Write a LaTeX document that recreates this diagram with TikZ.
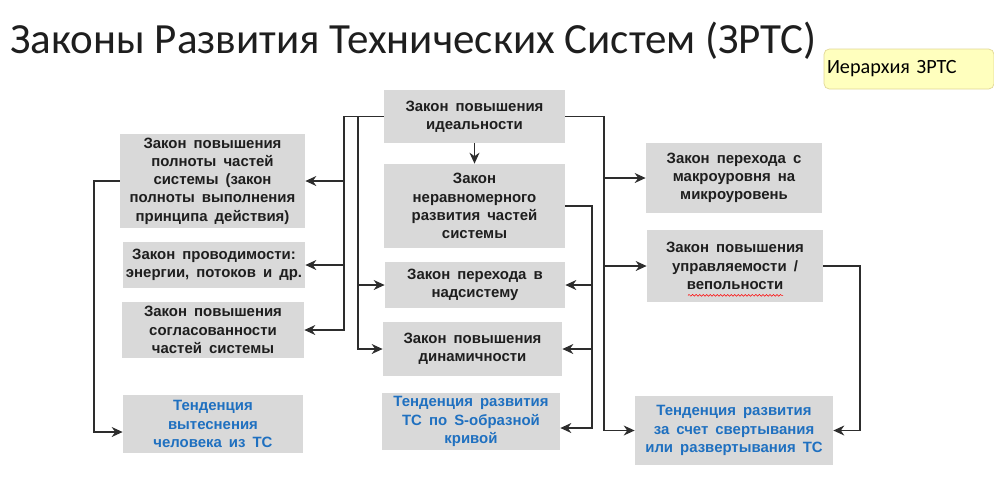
\documentclass[tikz,border=0pt]{standalone}
\usepackage{fontspec}
\setmainfont{Carlito}
\newfontfamily\lawfont[WordSpace=1.7]{Liberation Sans}
\usetikzlibrary{arrows.meta,decorations.pathmorphing,calc}
\definecolor{boxgray}{RGB}{217,217,217}
\definecolor{lawtext}{RGB}{30,30,30}
\definecolor{trendblue}{RGB}{31,112,192}
\definecolor{linkgray}{RGB}{45,45,45}
\definecolor{notefill}{RGB}{255,255,190}
\definecolor{notedraw}{RGB}{225,215,150}
\begin{document}
\begin{tikzpicture}[x=0.02cm,y=-0.02cm,
  law/.style={fill=boxgray,text=lawtext,align=center,inner sep=0pt,
    font=\lawfont\bfseries\fontsize{8.5}{10.4}\selectfont},
  trend/.style={law,text=trendblue},
  sz/.style 2 args={minimum width=#1*0.02cm,minimum height=#2*0.02cm},
  link/.style={draw=linkgray,line width=0.7pt,-{Stealth[length=0.22cm,width=0.2cm]}},
  spell/.style={draw=red,line width=0.3pt,decorate,
    decoration={snake,amplitude=0.5pt,segment length=2pt}}]
\useasboundingbox (0,0) rectangle (994,495);
% title and note
\node[anchor=base west,inner sep=0pt,text=lawtext,
  font=\fontsize{24.5}{30}\selectfont] (title) at (10,53)
  {Законы Развития Технических Систем (ЗРТС)};
\node[fill=notefill,draw=notedraw,rounded corners=3pt,inner xsep=0.06cm,
  text width=3.28cm,minimum height=0.8cm,align=left,
  font=\fontsize{11.5}{13}\selectfont] (note) at (909,69) {Иерархия ЗРТС};
% middle column
\node[law,sz={181}{53}] (B1) at (474.5,116.5) {Закон повышения\\идеальности};
\node[law,sz={181}{84}] (B2) at (474.5,206) {Закон\\неравномерного\\развития частей\\системы};
\node[law,sz={180}{46}] (B3) at (475,285) {Закон перехода в\\надсистему};
\node[law,sz={179}{54}] (B4) at (472.5,349) {Закон повышения\\динамичности};
\node[trend,sz={178}{57}] (B5) at (471,421.5) {Тенденция развития\\ТС по S-образной\\кривой};
% left column
\node[law,sz={185}{94}] (L1) at (212.5,181) {Закон повышения\\полноты частей\\системы (закон\\полноты выполнения\\принципа действия)};
\node[law,sz={182}{46}] (L2) at (214,265) {Закон проводимости:\\энергии, потоков и др.};
\node[law,sz={182}{56}] (L3) at (213,330) {Закон повышения\\согласованности\\частей системы};
\node[trend,sz={180}{58}] (L4) at (213,424) {Тенденция\\вытеснения\\человека из ТС};
% right column
\node[law,sz={176}{70}] (R1) at (734,178) {Закон перехода с\\макроуровня на\\микроуровень};
\node[law,sz={176}{72}] (R2) at (735,266) {Закон повышения\\управляемости /\\вепольности};
\node[trend,sz={198}{69}] (R3) at (734,430.5) {Тенденция развития\\за счет свертывания\\или развертывания ТС};
\draw[spell] ($(R2.south)+(-47,-7)$) -- ++(95,0);
% bends
\coordinate (oL) at (344,116.5);
\coordinate (iL) at (358,116.5);
\coordinate (oR) at (604,116.5);
\coordinate (mR) at (592,206);
\coordinate (lL) at (94,181);
\coordinate (rR) at (860,266);
% connectors
\draw[link] (B1) -- (B2);
\draw[link] (B1.west) -- (oL) |- (L1.east);
\draw[link] (B1.west) -- (oL) |- (L2.east);
\draw[link] (B1.west) -- (oL) |- (L3.east);
\draw[link] (B1.west) -- (iL) |- (B3.west);
\draw[link] (B1.west) -- (iL) |- (B4.west);
\draw[link] (B1.east) -- (oR) |- (R1.west);
\draw[link] (B1.east) -- (oR) |- (R2.west);
\draw[link] (B1.east) -- (oR) |- (R3.west);
\draw[link] (B2.east) -- (mR) |- (B3.east);
\draw[link] (B2.east) -- (mR) |- (B4.east);
\draw[link] (B2.east) -- (mR) |- ([yshift=-0.13cm]B5.east);
\draw[link] (L1.west) -- (lL) |- ([yshift=-0.16cm]L4.west);
\draw[link] (R2.east) -- (rR) |- (R3.east);
\end{tikzpicture}
\end{document}
